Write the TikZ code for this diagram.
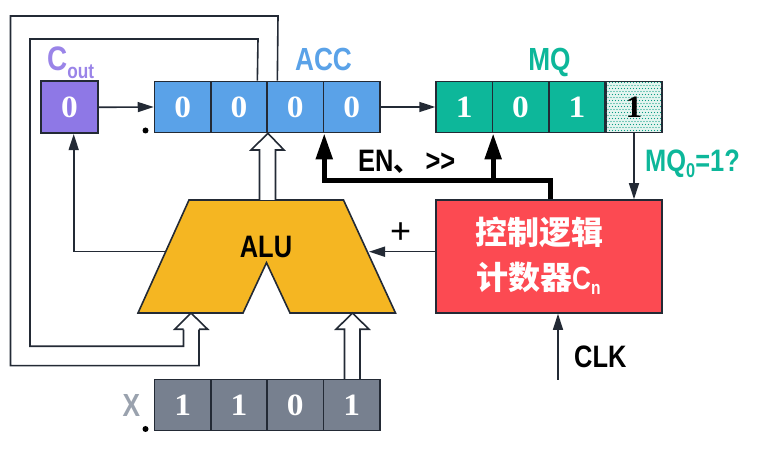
\documentclass[tikz,border=0pt]{standalone}
\usepackage{fontspec}
\usetikzlibrary{arrows.meta,calc}
\setmainfont{Liberation Sans}
\newfontfamily\labfont[FakeStretch=0.82]{Liberation Sans}
\newfontfamily\digitfont[FakeStretch=1.08]{Liberation Serif}
\newfontfamily\cjkfont{Noto Sans CJK SC}
\newcommand{\fs}[1]{\fontsize{#1}{#1}\selectfont}
\definecolor{linec}{HTML}{232A35}
\definecolor{cpurple}{HTML}{8E78E6}
\definecolor{lpurple}{HTML}{9A84E8}
\definecolor{cblue}{HTML}{5AA2E8}
\definecolor{cgreen}{HTML}{0DB79A}
\definecolor{cred}{HTML}{FC4A52}
\definecolor{corange}{HTML}{F5B622}
\definecolor{cgray}{HTML}{77808F}
\definecolor{lgray}{HTML}{9AA2AE}
\definecolor{dotbg}{HTML}{E4F5F0}
\tikzset{
  cellbox/.style={draw=linec,line width=1.6pt,minimum width=56.3pt,minimum height=51pt,inner sep=0pt,
    text=white,font=\digitfont\bfseries\fs{31}},
  thin line/.style={draw=linec,line width=1.6pt},
  thin arrow/.style={thin line,-{Triangle[length=16pt,width=10pt]}},
  thick arrow/.style={draw=black,line width=5pt,-{Triangle[length=26pt,width=16pt]}},
  thick line/.style={draw=black,line width=5pt},
  hollow/.style={draw=linec,line width=1.6pt,fill=white,line join=miter},
  lab/.style={font=\labfont\bfseries\fs{32},inner sep=0pt},
  smalllab/.style={font=\labfont\bfseries\fs{31},inner sep=0pt},
}
\begin{document}
\begin{tikzpicture}[x=1pt,y=-1pt]
\useasboundingbox (0,0) rectangle (772,454);
% control and ALU shapes
\node[draw=linec,line width=1.6pt,fill=cred,minimum width=226pt,minimum height=113pt,inner sep=0pt] (ctrl) at (549,256.5) {};
\filldraw[draw=linec,line width=1.6pt,fill=corange,line join=miter]
  (189,200) coordinate (alutl) -- (343.5,200) coordinate (alutr) -- (395.5,313) coordinate (alubr)
  -- (290,313) -- (266.5,262.7) -- (243,313) -- (138,313) coordinate (alubl) -- cycle;
% registers
\node[cellbox,fill=cpurple,minimum width=57pt,minimum height=52pt] (cout) at (69.5,107.3) {0};
\foreach \i/\x/\t in {1/182.7/0,2/239/0,3/295.3/0,4/351.7/0}
  \node[cellbox,fill=cblue] (acc\i) at (\x,107) {\t};
\foreach \i/\x/\t in {1/464.2/1,2/520.5/0,3/577/1}
  \node[cellbox,fill=cgreen] (mq\i) at (\x,107) {\t};
\node[cellbox,fill=dotbg] (mq4) at (634,107) {};
\begin{scope}
  \clip (606.5,82.5) rectangle (661.5,131.5);
  \foreach \r in {0,...,16} {
    \pgfmathsetmacro{\off}{mod(\r,2)*1.5}
    \foreach \c in {0,...,18}
      \fill[cgreen!85!black] (606.5+\off+3*\c,82.5+3*\r) circle (0.62pt);
  }
\end{scope}
\node[font=\digitfont\bfseries\fs{31},text=black,inner sep=0pt] (mq4t) at (mq4) {1};
\foreach \i/\x/\t in {1/182.7/1,2/239/1,3/295.3/0,4/351.7/1}
  \node[cellbox,fill=cgray] (x\i) at (\x,405) {\t};
% labels
\node[lab,text=lpurple,anchor=base west] (coutl) at (47,71) {\fs{34}C\raisebox{-7.5pt}{\fs{21}out}};
\node[lab,text=cblue,anchor=base] (accl) at (323.5,71) {ACC};
\node[lab,text=cgreen,anchor=base] (mql) at (549.5,70.5) {MQ};
\node[lab,text=lgray,anchor=base] (xl) at (131.5,417) {X};
\node[smalllab,text=black,anchor=base] (alul) at (266,258) {ALU};
\node[smalllab,text=black,anchor=base west] (enl) at (358,171.5) {EN{\cjkfont\bfseries\fs{26}、}\hspace{6pt}{>}{>}};
\node[smalllab,text=cgreen,anchor=base west] (mq0l) at (645,171.5) {MQ\raisebox{-6pt}{\fs{20}0}=1?};
\node[smalllab,text=black,anchor=base west] (clkl) at (574,368) {CLK};
\node[font=\fs{36},inner sep=0pt] (plusl) at (400.7,233) {+};
\node[inner sep=0pt,text=white,anchor=base west,font=\cjkfont\bfseries\fs{32}] (ctrlA) at (475,245) {控制逻辑};
\node[inner sep=0pt,text=white,anchor=base west,font=\cjkfont\bfseries\fs{32}] (ctrlB) at (476,290) {计数器{\labfont\bfseries\fs{32}C\raisebox{-5pt}{\fs{19}n}}};
% dots
\fill[black] (145.5,130.5) circle (3pt) coordinate (dota);
\fill[black] (145.5,429) circle (3pt) coordinate (dotb);
% named free ends
\coordinate (aluleft) at (166,251.7);
\coordinate (aluright) at (369,251.7);
\coordinate (clkstart) at (558,380);
\coordinate (coutin) at ($(cout.south)+(4.2,0)$);
\coordinate (looptopo) at ($(acc3.north west)+(11,0)$);
\coordinate (looptopi) at ($(acc3.north west)+(-9,0)$);
\coordinate (busstart) at ($(ctrl.north)+(1,0)$);
\coordinate (bus) at ($(busstart)+(0,-18.5)$);
% thin connectors
\draw[thin arrow] (cout.east) -- (acc1.west);
\draw[thin arrow] (acc4.east) -- (mq1.west);
\draw[thin arrow] (aluleft) -| (coutin);
\draw[thin arrow] (ctrl.west |- aluright) -- (aluright);
\draw[thin arrow] (mq4.south) -- (mq4.south |- ctrl.north);
\draw[thin arrow] (clkstart) -- (clkstart |- ctrl.south);
% loops
\draw[thin line] (looptopo) -- (278,16) -- (10.5,16) -- (10.5,365.7) -- (199,365.7) -- (199,329.3);
\draw[thin line] (looptopi) -- (258,39) -- (30,39) -- (30,346.3) -- (183.5,346.3) -- (183.5,329.3);
% hollow arrows
\draw[hollow] (259.5,200) -- (259.5,150) -- (251,150) -- (acc2.south east) -- (284,150) -- (275.5,150) -- (275.5,200);
\draw[hollow] (183.5,329.3) -- (174.7,329.3) -- (191,313) -- (207.7,329.3) -- (199,329.3);
\draw[hollow] (344.5,379) -- (344.5,329.3) -- (336,329.3) -- (352.5,313) -- (369,329.3) -- (360,329.3) -- (360,379);
% thick connectors
\draw[thick line,line join=miter] (busstart) -- (bus) -- (mq1.south east |- bus);
\draw[thick arrow,line join=miter] (mq1.south east |- bus) -| (acc3.south east);
\draw[thick arrow] (mq1.south east |- bus) -- (mq1.south east);
\end{tikzpicture}
\end{document}
